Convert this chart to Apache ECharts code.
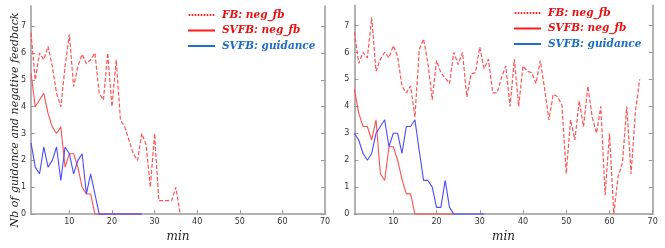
<!DOCTYPE html>
<html>
<head>
<meta charset="utf-8">
<script src="https://cdn.jsdelivr.net/npm/echarts@6/dist/echarts.min.js"></script>
<style>
  html, body { margin: 0; padding: 0; background: #fff; }
  #chart { width: 665px; height: 248px; }
</style>
</head>
<body>
<div id="chart"></div>
<script>
// 左图 (minutes 1..N)
const leftFbNeg = [6.75, 5.0, 6.0, 5.75, 6.25, 5.5, 4.5, 4.0, 5.5, 6.7, 4.75, 5.5, 5.95, 5.6, 5.75, 6.0, 4.5, 4.25, 6.0, 4.0, 5.75, 3.5, 3.25, 2.75, 2.25, 2.0, 3.0, 2.6, 1.0, 3.0, 0.5, 0.5, 0.5, 0.5, 1.0, 0];
const leftSvfbNeg = [5.25, 4.0, 4.25, 4.5, 3.75, 3.25, 3.0, 3.25, 1.75, 2.25, 2.25, 1.75, 1.0, 0.75, 0.75, 0, 0, 0, 0, 0, 0, 0, 0, 0, 0, 0, 0];
const leftSvfbGuid = [2.65, 1.75, 1.5, 2.5, 1.75, 2.0, 2.5, 1.25, 2.5, 2.25, 1.5, 2.0, 2.25, 0.75, 1.5, 0.75, 0, 0, 0, 0, 0, 0, 0, 0, 0, 0, 0];

// 右图
const rightFbNeg = [6.75, 5.6, 6.0, 5.8, 7.3, 5.3, 5.75, 6.0, 5.8, 6.25, 5.85, 4.75, 4.5, 4.75, 3.6, 6.1, 6.5, 5.6, 4.25, 5.7, 5.25, 5.05, 4.85, 6.0, 5.55, 6.0, 4.35, 5.2, 5.25, 6.2, 5.4, 5.75, 4.5, 4.5, 5.05, 5.5, 4.0, 5.75, 4.0, 5.5, 5.3, 5.25, 4.85, 5.7, 4.65, 3.5, 4.45, 4.35, 4.05, 1.5, 3.5, 2.75, 4.2, 3.25, 4.75, 3.6, 3.0, 4.0, 0.7, 3.0, 0, 1.4, 1.9, 4.0, 1.5, 3.8, 5.0];
const rightSvfbNeg = [4.65, 3.75, 3.25, 3.25, 2.75, 3.5, 1.5, 1.25, 2.5, 2.5, 2.0, 1.3, 0.75, 0.75, 0, 0, 0, 0, 0, 0, 0, 0, 0, 0];
const rightSvfbGuid = [3.0, 2.75, 2.25, 2.0, 2.25, 3.0, 3.25, 3.5, 2.5, 3.0, 3.0, 2.25, 3.25, 3.25, 3.5, 2.35, 1.25, 1.25, 1.0, 0.25, 0.25, 1.25, 0.25, 0, 0, 0, 0, 0, 0, 0, 0];

const xTicks = [10, 20, 30, 40, 50, 60, 70];
const yTicks = [0, 1, 2, 3, 4, 5, 6, 7];
const seriesNames = ['FB: neg_fb', 'SVFB: neg_fb', 'SVFB: guidance'];
const yTitle = 'Nb of guidance and negative feedback';

const toPoints = arr => arr.map((v, i) => [i + 1, v]);

const axisGray = '#9a9a9a';
const labelFont = { color: '#333', fontSize: 8, fontFamily: 'DejaVu Sans' };
const nameFont = { color: '#222', fontSize: 12, fontStyle: 'italic', fontFamily: 'DejaVu Serif' };

// legend icons: solid bar and dotted bar, 27 x 2
const solidIcon = 'path://M0,0L27,0L27,2L0,2Z';
let dotted = '';
for (let i = 0; i < 9; i++) dotted += 'M' + (i * 3) + ',0h1.6v2h-1.6Z';
const dottedIcon = 'path://' + dotted;

const chart = echarts.init(document.getElementById('chart'));

function makeX(gridIndex) {
  return {
    type: 'value', gridIndex, min: 1, max: 70,
    name: 'min', nameLocation: 'middle', nameGap: 11, nameTextStyle: nameFont,
    axisLine: { show: true, lineStyle: { color: axisGray, width: 1.5 } },
    axisTick: { show: true, inside: true, length: 4, customValues: xTicks, lineStyle: { color: axisGray } },
    axisLabel: { customValues: xTicks, margin: 4, ...labelFont },
    splitLine: { show: false }
  };
}

function makeY(gridIndex) {
  const left = {
    type: 'value', gridIndex, min: 0, max: 7.75, position: 'left',
    axisLine: { show: true, lineStyle: { color: axisGray, width: 1.5 } },
    axisTick: { show: true, inside: true, length: 4, customValues: yTicks, lineStyle: { color: axisGray } },
    axisLabel: { customValues: yTicks, margin: 5, ...labelFont },
    splitLine: { show: false }
  };
  const right = {
    type: 'value', gridIndex, min: 0, max: 7.75, position: 'right',
    axisLine: { show: true, lineStyle: { color: axisGray, width: 1.5 } },
    axisTick: { show: true, inside: true, length: 4, customValues: yTicks, lineStyle: { color: axisGray } },
    axisLabel: { show: false },
    splitLine: { show: false }
  };
  return [left, right];
}

function makeSeries(idx, fb, neg, guid) {
  return [
    { name: seriesNames[0], type: 'line', xAxisIndex: idx, yAxisIndex: idx * 2, data: toPoints(fb),
      showSymbol: false, symbol: 'none', lineStyle: { color: '#ff5252', width: 1.2, type: [4, 2] }, itemStyle: { color: '#ff5252' } },
    { name: seriesNames[1], type: 'line', xAxisIndex: idx, yAxisIndex: idx * 2, data: toPoints(neg),
      showSymbol: false, symbol: 'none', lineStyle: { color: '#ff5050', width: 1.1 }, itemStyle: { color: '#ff5050' } },
    { name: seriesNames[2], type: 'line', xAxisIndex: idx, yAxisIndex: idx * 2, data: toPoints(guid),
      showSymbol: false, symbol: 'none', lineStyle: { color: '#4a4aff', width: 1.1 }, itemStyle: { color: '#4a4aff' } }
  ];
}

function makeLegend(left, top) {
  return {
    orient: 'vertical', left, top, padding: 0, itemWidth: 27, itemHeight: 2, itemGap: 4.5, itemStyle: { borderWidth: 0 },
    selectedMode: false,
    textStyle: { fontSize: 10.5, fontWeight: 'bold', fontStyle: 'italic', fontFamily: 'DejaVu Serif', padding: [0, 0, 0, 2] },
    data: [
      { name: seriesNames[0], icon: dottedIcon, itemStyle: { color: '#ff2020' }, textStyle: { color: '#e81010' } },
      { name: seriesNames[1], icon: solidIcon, itemStyle: { color: '#ff1a1a' }, textStyle: { color: '#e81010' } },
      { name: seriesNames[2], icon: solidIcon, itemStyle: { color: '#1f6fd0' }, textStyle: { color: '#1a6cc8' } }
    ]
  };
}

const option = {
  animation: false,
  grid: [
    { left: 31, top: 6, width: 294, height: 222.3 },
    { left: 354.4, top: 5.3, width: 298.3, height: 224 }
  ],
  xAxis: [makeX(0), makeX(1)],
  yAxis: [...makeY(0), ...makeY(1)],
  legend: [makeLegend(188, 9.5), makeLegend(514, 7.5)],
  graphic: [{
    type: 'text', x: 15, y: 120, rotation: Math.PI / 2,
    style: { text: yTitle, align: 'center', verticalAlign: 'middle', fill: '#222',
      fontSize: 11, fontStyle: 'italic', fontFamily: 'DejaVu Serif' }
  }],
  series: [
    ...makeSeries(0, leftFbNeg, leftSvfbNeg, leftSvfbGuid),
    ...makeSeries(1, rightFbNeg, rightSvfbNeg, rightSvfbGuid)
  ]
};

chart.setOption(option);
</script>
</body>
</html>
